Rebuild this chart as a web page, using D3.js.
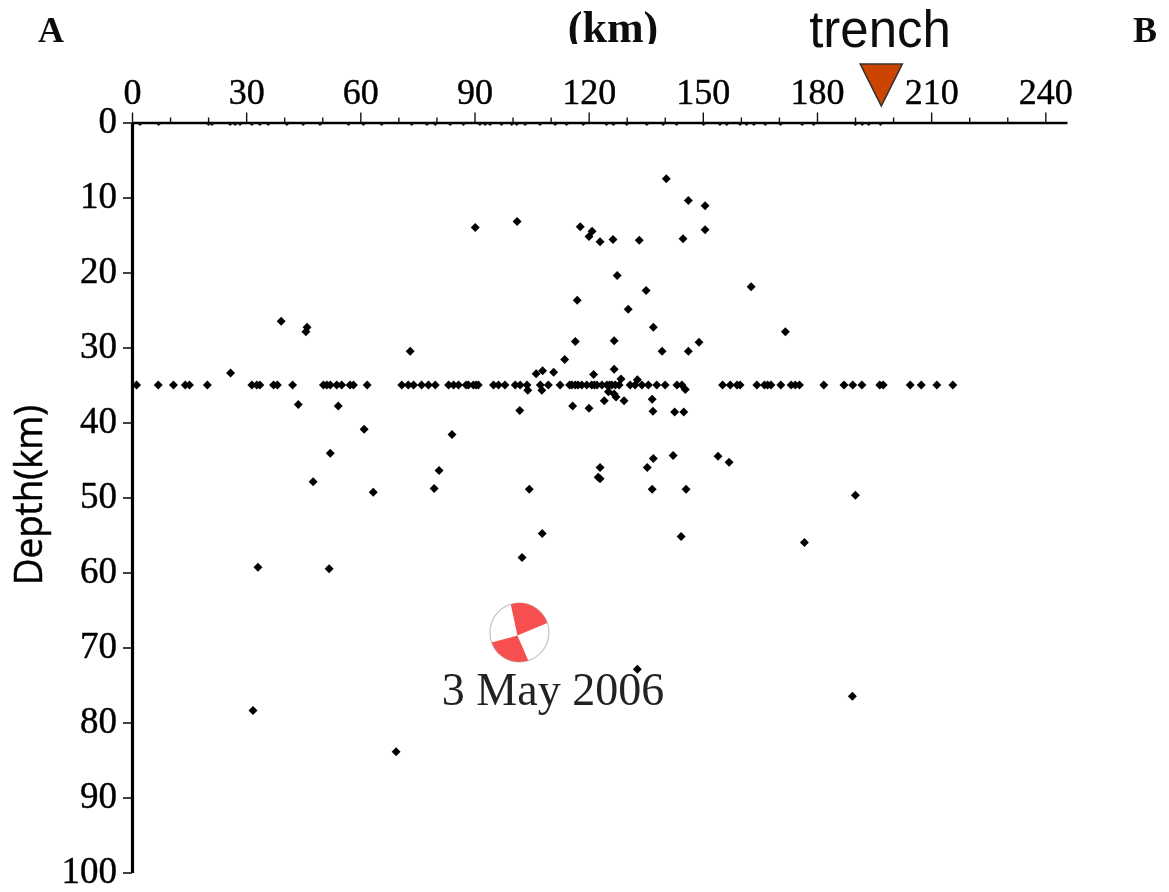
<!DOCTYPE html>
<html>
<head>
<meta charset="utf-8">
<script src="https://cdnjs.cloudflare.com/ajax/libs/d3/7.8.5/d3.min.js"></script>
<style>
html, body { margin: 0; padding: 0; background: #fff; }
svg { display: block; }
.tick text { font-family: "Liberation Serif", serif; fill: #000; stroke: #000; stroke-width: 0.4px; }
</style>
</head>
<body>
<div id="chart"></div>
<script>
// tick labels
var distTicks = [0, 30, 60, 90, 120, 150, 180, 210, 240];
var distMinor = [10, 20, 40, 50, 70, 80, 100, 110, 130, 140, 160, 170, 190, 200, 220, 230];
var depthTicks = [0, 10, 20, 30, 40, 50, 60, 70, 80, 90, 100];

// events fixed at 35 km depth, distance in km
var fixedDist = [1.2, 6.9, 10.9, 14, 15.1, 19.8, 31.5, 32.8, 33.6, 37.2, 38.2, 42.2, 50.3, 51.2, 52.1, 53.8, 55.1, 57.3, 58.2, 61.8,
    70.9, 72.6, 74, 76.1, 77.9, 79.7, 83.2, 84.5, 85.8, 87.8, 88.4, 89.7, 90.4, 91, 95, 96.3, 98, 100.7, 102, 103.8, 107.3, 109.4, 112.5,
    115, 115.6, 116.5, 117.2, 118.2, 119.5, 120.8, 121.5, 122.2, 123.5, 124.8, 125.5, 126.1, 127, 128, 130.9, 132.2, 134, 135.7, 137.9, 140.1, 143.2, 144.5,
    155.2, 157.2, 159, 159.8, 164.2, 166.2, 167, 167.9, 170.5, 173.2, 174.3, 175.4, 181.8, 187.1, 189.4, 191.8, 196.5, 197.4,
    204.5, 207.4, 211.5, 215.7];

// events with no depth, on the surface line
var surfaceDist = [2.1, 7, 20.1, 21, 25.8, 27.1, 28.4, 31.5, 33.6, 35.8, 40.7, 45, 49.4, 56.9, 60.8, 65.6, 73.5, 77.5, 79.7,
    83.6, 87.1, 91.4, 92.8, 94.1, 97.1, 99.8, 101.1, 103.3, 107.2, 111.2, 114.2, 118.6, 124.7, 126.5, 130, 135.3, 139.6, 143.1,
    150.2, 154.5, 156.3, 159.8, 161.5, 163.4, 166.4, 170.4, 176.1, 179.1, 190.1, 191.9, 193.6, 196.7];

// other events
var eventDist = [140.4, 146.2, 150.6, 90.2, 101.2, 117.8, 120.9, 120.1, 123, 126.4, 133.3, 144.8, 150.6, 127.5, 135.1, 117, 162.7, 130.4,
    137, 39.2, 46, 45.7, 171.7, 73.1, 116.5, 126.7, 149, 146.2, 139.3, 25.9, 113.7, 106.2, 107.9, 110.8, 121.3, 126.7,
    104, 107.7, 125.2, 126.7, 127.2, 124.1, 129.3, 136.7, 115.8, 120.1, 101.9, 136.9, 142.6, 145, 145.4, 128.5, 132.8,
    43.7, 54.2, 61, 154, 156.9, 142.2, 137, 135.4, 123, 122.5, 123, 80.7, 79.4, 84.1, 52.1, 47.6, 63.4, 104.4, 136.7, 145.6,
    190.1, 144.3, 176.7, 107.8, 102.5, 33.1, 51.8, 132.8, 189.3, 31.8, 69.4];
var eventDepth = [7.5, 10.4, 11.1, 14, 13.2, 13.9, 14.5, 15.2, 15.9, 15.6, 15.7, 15.5, 14.3, 20.4, 22.4, 23.7, 21.9, 24.9,
    27.3, 26.5, 27.3, 27.9, 27.9, 30.5, 29.2, 29.1, 29.3, 30.5, 30.5, 33.4, 31.6, 33.5, 33.1, 33.3, 33.6, 32.9,
    35.7, 35.7, 35.9, 36.2, 36.6, 37.1, 37.1, 36.9, 37.8, 38.1, 38.4, 38.5, 38.6, 38.6, 35.6, 34.2, 34.3,
    37.6, 37.8, 40.9, 44.5, 45.3, 44.4, 44.8, 46, 46, 47.3, 47.5, 46.4, 48.8, 41.6, 44.1, 47.9, 49.3, 48.9, 48.9, 48.9,
    49.7, 55.2, 56, 54.8, 58, 59.3, 59.5, 72.9, 76.5, 78.4, 83.9];

var mainShock = { km: 101.8, depth: 68, label: "3 May 2006" };
var trenchKm = 196.9;
// nodal plane ends, degrees clockwise from north
var redQuadrants = [[-17, 71], [162.4, 250]];

var w = 1169, h = 892;
var svg = d3.select("#chart").append("svg").attr("width", w).attr("height", h);

var defs = svg.append("defs");
defs.append("filter").attr("id", "soft")
    .attr("x", "0").attr("y", "0").attr("width", w).attr("height", h)
    .attr("filterUnits", "userSpaceOnUse")
    .append("feGaussianBlur").attr("stdDeviation", 0.7);
// the (km) title is cut off at the bottom in the original
defs.append("clipPath").attr("id", "kmclip")
    .append("rect").attr("x", 540).attr("y", 0).attr("width", 150).attr("height", 44);

var g = svg.append("g").attr("filter", "url(#soft)");
g.append("rect").attr("width", w).attr("height", h).attr("fill", "#fff");

var x = d3.scaleLinear().domain([0, 245.7]).range([132, 1067]);
var y = d3.scaleLinear().domain([0, 100]).range([122.5, 872.5]);

// minor ticks first, so the main axis sits on top
g.append("g").attr("transform", "translate(0," + y(0) + ")")
    .call(d3.axisTop(x).tickValues(distMinor).tickSize(5).tickSizeOuter(0).tickFormat(""))
    .call(function(a) { a.select(".domain").remove(); })
    .selectAll("line").attr("stroke", "#111").attr("stroke-width", 1.4);

var xAxis = g.append("g").attr("transform", "translate(0," + y(0) + ")")
    .call(d3.axisTop(x).tickValues(distTicks).tickSize(10).tickSizeOuter(0).tickPadding(9).tickFormat(d3.format("d")));
xAxis.select(".domain").attr("stroke", "#000").attr("stroke-width", 2.6);
xAxis.selectAll("line").attr("stroke", "#111").attr("stroke-width", 1.4);
xAxis.selectAll("text").style("font-size", "36px");

var yAxis = g.append("g").attr("transform", "translate(" + x(0) + ",0)")
    .call(d3.axisLeft(y).tickValues(depthTicks).tickSize(9).tickSizeOuter(0).tickPadding(6).tickFormat(d3.format("d")));
yAxis.select(".domain").attr("stroke", "#000").attr("stroke-width", 3.2);
yAxis.selectAll("line").attr("stroke", "#111").attr("stroke-width", 1.6);
yAxis.selectAll("text").style("font-size", "37px").attr("dy", "0.28em");

// surface events are just small nicks under the axis
g.append("g").selectAll("path").data(surfaceDist).enter().append("path")
    .attr("d", d3.symbol().type(d3.symbolSquare).size(9))
    .attr("transform", function(d) { return "translate(" + x(d) + "," + (y(0) + 1.5) + ") rotate(45)"; })
    .attr("fill", "#111");

var dot = d3.symbol().type(d3.symbolSquare).size(40);
g.append("g").selectAll("path").data(fixedDist).enter().append("path")
    .attr("d", dot)
    .attr("transform", function(d) { return "translate(" + x(d) + "," + y(35) + ") rotate(45)"; })
    .attr("fill", "#000");

g.append("g").selectAll("path").data(eventDist).enter().append("path")
    .attr("d", dot)
    .attr("transform", function(d, i) { return "translate(" + x(d) + "," + y(eventDepth[i]) + ") rotate(45)"; })
    .attr("fill", "#000");

// focal mechanism
var ballR = 29.5;
var ball = g.append("g").attr("transform", "translate(" + x(mainShock.km) + "," + y(mainShock.depth) + ")");
ball.append("circle").attr("r", ballR).attr("fill", "#fff").attr("stroke", "#c4c4c4").attr("stroke-width", 1.2);
ball.selectAll("path").data(redQuadrants).enter().append("path")
    .attr("d", function(q) {
        var a0 = (q[0] - 90) * Math.PI / 180, a1 = (q[1] - 90) * Math.PI / 180;
        var p = d3.path();
        p.moveTo(-2, 3);
        p.lineTo(ballR * Math.cos(a0), ballR * Math.sin(a0));
        p.arc(0, 0, ballR, a0, a1);
        p.closePath();
        return p.toString();
    })
    .attr("fill", "#f75050");

g.append("text").attr("x", 553).attr("y", 705).attr("text-anchor", "middle")
    .attr("font-family", "Liberation Serif").attr("font-size", 46).attr("fill", "#222")
    .text(mainShock.label);

// trench marker
g.append("path")
    .attr("d", d3.line()([[x(trenchKm) - 21, 64], [x(trenchKm) + 21, 64], [x(trenchKm), 106]]) + "Z")
    .attr("fill", "#cc4400").attr("stroke", "#333").attr("stroke-width", 1.6);
g.append("text").attr("x", 880).attr("y", 47).attr("text-anchor", "middle")
    .attr("font-family", "Liberation Sans").attr("font-size", 51).attr("fill", "#111")
    .text("trench");

g.append("text").attr("x", 613).attr("y", 42).attr("text-anchor", "middle").attr("clip-path", "url(#kmclip)")
    .attr("font-family", "Liberation Serif").attr("font-weight", "bold").attr("font-size", 44).attr("fill", "#111")
    .text("(km)");

g.append("text").attr("x", 38).attr("y", 42)
    .attr("font-family", "Liberation Serif").attr("font-weight", "bold").attr("font-size", 36).attr("fill", "#111")
    .text("A");
g.append("text").attr("x", 1133).attr("y", 42)
    .attr("font-family", "Liberation Serif").attr("font-weight", "bold").attr("font-size", 36).attr("fill", "#111")
    .text("B");

g.append("text").attr("transform", "translate(42,495) rotate(-90)").attr("text-anchor", "middle")
    .attr("font-family", "Open Sans").attr("font-size", 38).attr("fill", "#000").attr("stroke", "#000").attr("stroke-width", 0.5)
    .attr("textLength", 180).attr("lengthAdjust", "spacingAndGlyphs")
    .text("Depth(km)");
</script>
</body>
</html>
